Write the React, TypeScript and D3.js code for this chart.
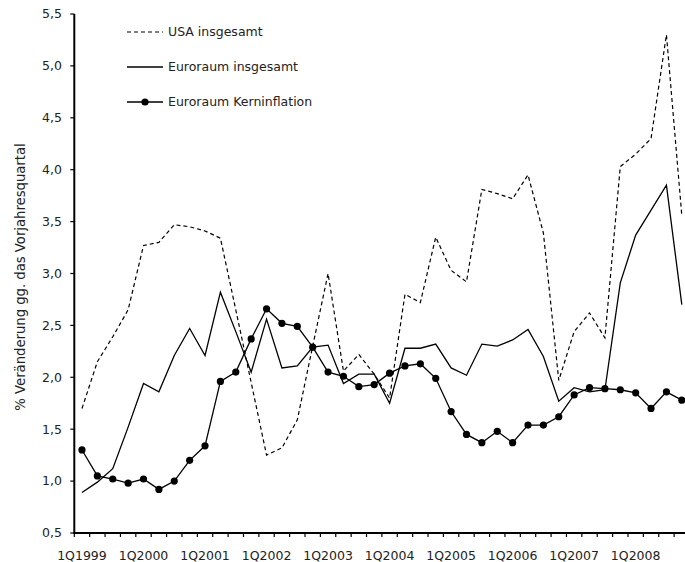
import React from "react";
import * as d3 from "d3";

const quarters: string[] = d3.range(40).map((i) => `${(i % 4) + 1}Q${1999 + Math.floor(i / 4)}`);
const tickLabels = ["1Q1999", "1Q2000", "1Q2001", "1Q2002", "1Q2003", "1Q2004", "1Q2005", "1Q2006", "1Q2007", "1Q2008"];
const yTicks = [0.5, 1.0, 1.5, 2.0, 2.5, 3.0, 3.5, 4.0, 4.5, 5.0, 5.5];

const usa = [1.70, 2.15, 2.39, 2.65, 3.27, 3.30, 3.47, 3.45, 3.41, 3.34, 2.65, 1.95, 1.25, 1.32, 1.59, 2.30, 3.00, 2.06, 2.22, 2.03, 1.80, 2.80, 2.72, 3.35, 3.03, 2.92, 3.81, 3.77, 3.72, 3.95, 3.39, 1.97, 2.44, 2.62, 2.38, 4.03, 4.15, 4.30, 5.30, 3.56];
const euro = [0.89, 0.99, 1.12, 1.52, 1.94, 1.86, 2.21, 2.47, 2.21, 2.82, 2.44, 2.05, 2.56, 2.09, 2.11, 2.29, 2.31, 1.94, 2.03, 2.03, 1.75, 2.28, 2.28, 2.32, 2.09, 2.02, 2.32, 2.30, 2.36, 2.46, 2.20, 1.77, 1.90, 1.86, 1.88, 2.91, 3.37, 3.61, 3.85, 2.70];
const core = [1.30, 1.05, 1.02, 0.98, 1.02, 0.92, 1.00, 1.20, 1.34, 1.96, 2.05, 2.37, 2.66, 2.52, 2.49, 2.29, 2.05, 2.01, 1.91, 1.93, 2.04, 2.11, 2.13, 1.99, 1.67, 1.45, 1.37, 1.48, 1.37, 1.54, 1.54, 1.62, 1.83, 1.90, 1.89, 1.88, 1.85, 1.70, 1.86, 1.78];

const seriesNames = ["USA insgesamt", "Euroraum insgesamt", "Euroraum Kerninflation"];
const yTitle = "% Veränderung gg. das Vorjahresquartal";

const W = 685;
const H = 562;
const FONT = "'DejaVu Sans', sans-serif";

export default function App() {
  const x = d3.scaleBand<string>().domain(quarters).range([74.3, 74.3 + 40 * 15.38]).padding(0);
  const bw = x.bandwidth();
  const cx = (i: number) => (x(quarters[i]) as number) + bw / 2;
  const y = d3.scaleLinear().domain([0.5, 5.5]).range([533, 14]);
  const line = d3
    .line<number>()
    .x((_, i) => cx(i))
    .y((d) => y(d));
  const fmt = (v: number) => v.toFixed(1).replace(".", ",");
  const x0 = 74.3;
  const yBase = y(0.5);

  return (
    <svg width={W} height={H} style={{ position: "absolute", left: 0, top: 0, background: "#fff" }} fontFamily={FONT}>
      {/* series */}
      <path d={line(usa) || ""} fill="none" stroke="#000" strokeWidth={1.2} strokeDasharray="4,3" />
      <path d={line(euro) || ""} fill="none" stroke="#000" strokeWidth={1.3} />
      <path d={line(core) || ""} fill="none" stroke="#000" strokeWidth={1.3} />
      {core.map((d, i) => (
        <circle key={i} cx={cx(i)} cy={y(d)} r={3.6} fill="#000" />
      ))}

      {/* y axis */}
      <line x1={x0} x2={x0} y1={y(5.5)} y2={yBase} stroke="#000" strokeWidth={2} />
      {yTicks.map((t) => (
        <g key={t}>
          <line x1={x0 - 4} x2={x0} y1={y(t)} y2={y(t)} stroke="#000" strokeWidth={1.2} />
          <text x={62} y={y(t)} dy="0.35em" textAnchor="end" fontSize={12.5} fill="#222">
            {fmt(t)}
          </text>
        </g>
      ))}

      {/* x axis */}
      <line x1={x0 - 1} x2={W} y1={yBase} y2={yBase} stroke="#000" strokeWidth={2} />
      {d3.range(41).map((k) => {
        const xx = x0 + k * bw;
        return <line key={k} x1={xx} x2={xx} y1={yBase} y2={yBase + 4} stroke="#000" strokeWidth={1.2} />;
      })}
      {tickLabels.map((lab) => (
        <text key={lab} x={cx(quarters.indexOf(lab))} y={560} textAnchor="middle" fontSize={12.5} fill="#222">
          {lab}
        </text>
      ))}

      {/* y title */}
      <text
        transform={`translate(20,${277}) rotate(-90)`}
        textAnchor="middle"
        dy="0.35em"
        fontSize={13.2}
        fill="#222"
      >
        {yTitle}
      </text>

      {/* legend */}
      <g>
        <line x1={127} x2={163} y1={32} y2={32} stroke="#000" strokeWidth={1.2} strokeDasharray="4,3" />
        <text x={168} y={32} dy="0.35em" fontSize={12.5} fill="#222">{seriesNames[0]}</text>
        <line x1={127} x2={163} y1={67} y2={67} stroke="#000" strokeWidth={1.3} />
        <text x={168} y={67} dy="0.35em" fontSize={12.5} fill="#222">{seriesNames[1]}</text>
        <line x1={127} x2={163} y1={102} y2={102} stroke="#000" strokeWidth={1.3} />
        <circle cx={145} cy={102} r={3.6} fill="#000" />
        <text x={168} y={102} dy="0.35em" fontSize={12.5} fill="#222">{seriesNames[2]}</text>
      </g>
    </svg>
  );
}
